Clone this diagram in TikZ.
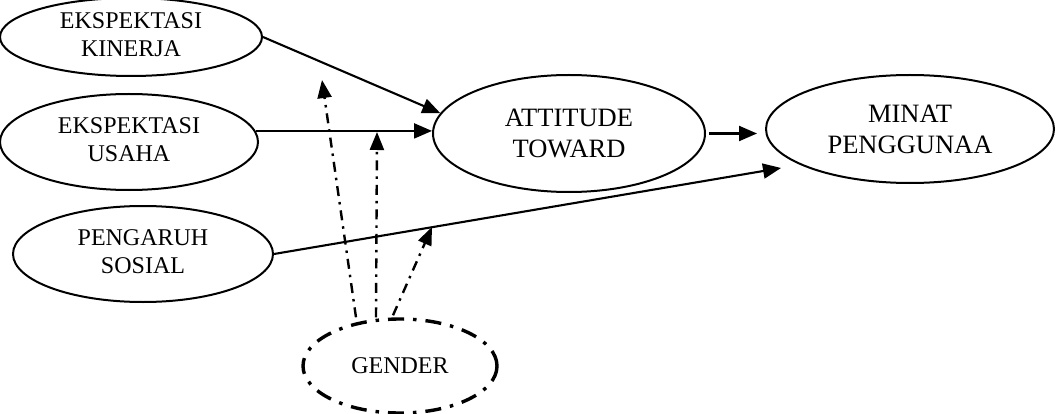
\documentclass[tikz,border=0pt]{standalone}
\usepackage{fontspec}
\setmainfont{Liberation Serif}
\usetikzlibrary{shapes.geometric,arrows.meta}
\tikzset{
  ell/.style={ellipse, draw, line width=2pt, inner sep=0pt, align=center,
    font=\fontsize{24}{28.5}\selectfont},
  bigell/.style={ell, font=\fontsize{26.5}{31}\selectfont},
  arr/.style={line width=2.1pt, -{Triangle[length=18pt,width=15pt]}},
  modarr/.style={line width=2.4pt, dash pattern=on 10pt off 6pt on 2.5pt off 6pt,
    -{Triangle[length=18pt,width=14pt]}},
  genell/.style={ellipse, draw, line width=3.4pt, inner sep=0pt,
    dash pattern=on 16pt off 9pt on 3.5pt off 9pt,
    font=\fontsize{24}{28}\selectfont}
}
\begin{document}
\begin{tikzpicture}[x=1pt,y=-1pt]
\useasboundingbox (0,0) rectangle (1056,414);
\node[ell, minimum width=262pt, minimum height=78pt] (k) at (131,37) {EKSPEKTASI\\KINERJA\vphantom{p}};
\node[ell, minimum width=258pt, minimum height=96pt] (u) at (129,142) {EKSPEKTASI\\USAHA\vphantom{p}};
\node[ell, minimum width=260pt, minimum height=96pt] (p) at (143,254) {PENGARUH\\SOSIAL\vphantom{p}};
\node[bigell, minimum width=272pt, minimum height=117pt] (a) at (569,133.5) {ATTITUDE\\TOWARD};
\node[bigell, minimum width=288pt, minimum height=108pt] (m) at (910,129) {MINAT\\PENGGUNAA};
\node[genell, minimum width=194pt, minimum height=94pt] (g) at (400,366) {GENDER};

\coordinate (mtip) at (781,168);
\coordinate (t1) at (322,80);
\coordinate (t2) at (377,132);
\coordinate (t3) at (432,227);

\draw[arr] (k.east) -- (a.171);
\draw[arr] (u.5) -- (u.5 -| a.west);
\draw[arr, shorten <=3pt, shorten >=8pt] (a.east) -- (a.east -| m.west);
\draw[arr] (p.east) -- (mtip);

\draw[modarr] ([xshift=-44pt]g.north) -- (t1);
\draw[modarr] ([xshift=-24pt]g.north) -- (t2);
\draw[modarr] ([xshift=-7pt,yshift=2pt]g.north) -- (t3);
\end{tikzpicture}
\end{document}
